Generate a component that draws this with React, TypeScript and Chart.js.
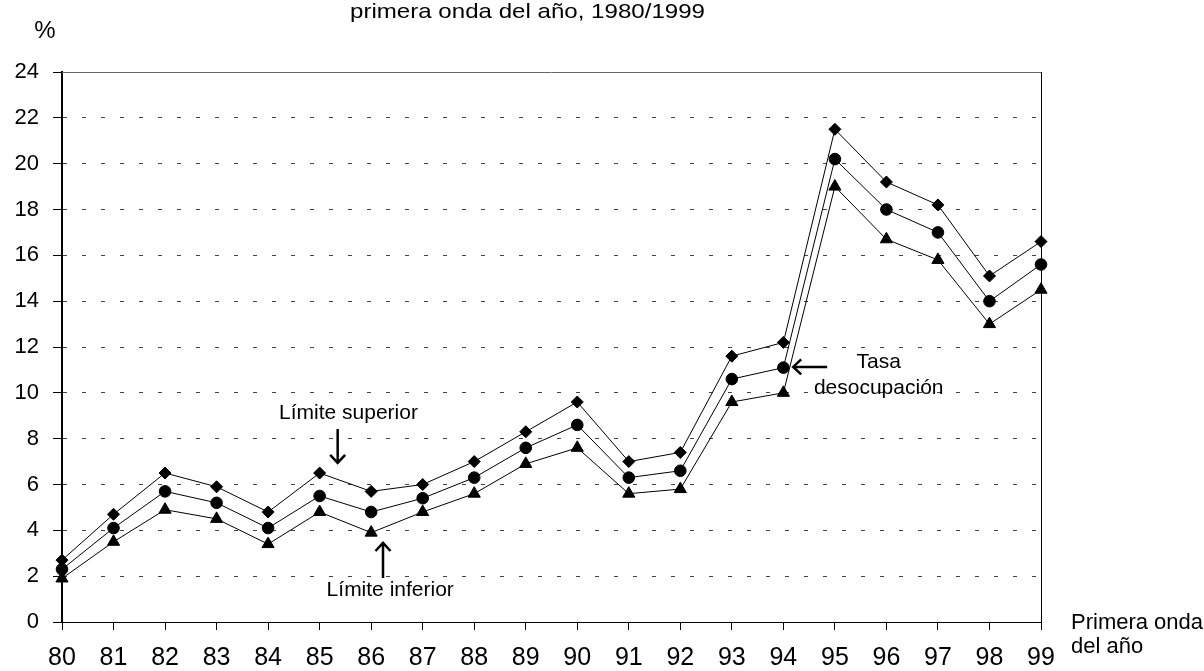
import React, { useEffect, useRef } from "react";
import { Chart, registerables } from "chart.js";

Chart.register(...registerables);

const categories = ["80", "81", "82", "83", "84", "85", "86", "87", "88", "89", "90", "91", "92", "93", "94", "95", "96", "97", "98", "99"];
const upperLimit = [2.7, 4.7, 6.5, 5.9, 4.8, 6.5, 5.7, 6.0, 7.0, 8.3, 9.6, 7.0, 7.4, 11.6, 12.2, 21.5, 19.2, 18.2, 15.1, 16.6];
const unemploymentRate = [2.3, 4.1, 5.7, 5.2, 4.1, 5.5, 4.8, 5.4, 6.3, 7.6, 8.6, 6.3, 6.6, 10.6, 11.1, 20.2, 18.0, 17.0, 14.0, 15.6];
const lowerLimit = [1.9, 3.5, 4.9, 4.5, 3.4, 4.8, 3.9, 4.8, 5.6, 6.9, 7.6, 5.6, 5.8, 9.6, 10.0, 19.0, 16.7, 15.8, 13.0, 14.5];
const yTicks = { min: 0, max: 24, step: 2 };

const titleText = "primera onda del año, 1980/1999";
const yAxisTitle = "%";
const xAxisTitle = ["Primera onda", "del año"];
const FONT = "'Liberation Sans', Arial, Helvetica, sans-serif";

function drawArrow(ctx: CanvasRenderingContext2D, x1: number, y1: number, x2: number, y2: number) {
  const ang = Math.atan2(y2 - y1, x2 - x1);
  const head = 11;
  const spread = 0.75;
  ctx.save();
  ctx.strokeStyle = "#000";
  ctx.lineWidth = 2.5;
  ctx.lineCap = "butt";
  ctx.beginPath();
  ctx.moveTo(x1, y1);
  ctx.lineTo(x2, y2);
  ctx.stroke();
  ctx.beginPath();
  ctx.moveTo(x2 - head * Math.cos(ang - spread), y2 - head * Math.sin(ang - spread));
  ctx.lineTo(x2, y2);
  ctx.lineTo(x2 - head * Math.cos(ang + spread), y2 - head * Math.sin(ang + spread));
  ctx.stroke();
  ctx.restore();
}

const decorPlugin = {
  id: "decor",
  afterDraw(chart: any) {
    const ctx: CanvasRenderingContext2D = chart.ctx;
    const { left, right, top, bottom } = chart.chartArea;
    const xs = chart.scales.x;
    const ys = chart.scales.y;
    const px = (i: number) => xs.getPixelForValue(i);
    const py = (v: number) => ys.getPixelForValue(v);

    ctx.save();
    ctx.strokeStyle = "#666";
    ctx.lineWidth = 1;
    ctx.beginPath();
    ctx.moveTo(left, top + 0.5);
    ctx.lineTo(right, top + 0.5);
    ctx.stroke();
    ctx.strokeStyle = "#000";
    ctx.beginPath();
    ctx.moveTo(right + 0.5, top);
    ctx.lineTo(right + 0.5, bottom);
    ctx.stroke();

    // title (condensed)
    ctx.fillStyle = "#000";
    ctx.font = `21px ${FONT}`;
    ctx.textBaseline = "alphabetic";
    ctx.textAlign = "left";
    const w = ctx.measureText(titleText).width;
    const targetW = 355;
    ctx.save();
    ctx.translate(350, 18);
    ctx.scale(targetW / w, 1);
    ctx.fillText(titleText, 0, 0);
    ctx.restore();

    // y axis title
    ctx.font = `24px ${FONT}`;
    ctx.textAlign = "center";
    ctx.textBaseline = "middle";
    ctx.fillText(yAxisTitle, 45, 31);

    // x axis title
    ctx.textAlign = "left";
    ctx.textBaseline = "alphabetic";
    ctx.font = `22px ${FONT}`;
    ctx.fillText(xAxisTitle[0], right + 30, bottom + 7);
    ctx.fillText(xAxisTitle[1], right + 30, bottom + 31);

    // annotations
    ctx.font = `21px ${FONT}`;
    ctx.textAlign = "center";
    ctx.textBaseline = "middle";
    ctx.fillText("Límite superior", px(5.56), py(9.12));
    ctx.fillText("Límite inferior", px(6.37), py(1.4));
    ctx.fillText("Tasa", px(15.85), py(11.35));
    ctx.fillText("desocupación", px(15.85), py(10.21));

    drawArrow(ctx, px(5.35), py(8.42), px(5.35), py(6.94));
    drawArrow(ctx, px(6.23), py(1.92), px(6.23), py(3.45));
    drawArrow(ctx, px(14.85), py(11.13), px(14.19), py(11.13));
    ctx.restore();
  },
};

export default function App() {
  const ref = useRef<HTMLCanvasElement | null>(null);
  useEffect(() => {
    if (!ref.current) return;
    const common = {
      borderColor: "#000",
      backgroundColor: "#000",
      pointBackgroundColor: "#000",
      pointBorderColor: "#000",
      borderWidth: 1,
      pointBorderWidth: 1,
      tension: 0,
      clip: false as const,
      fill: false,
    };
    const chart = new Chart(ref.current, {
      type: "line",
      data: {
        labels: categories,
        datasets: [
          { ...common, label: "Límite superior", data: upperLimit, pointStyle: "rectRot", pointRadius: 6 },
          { ...common, label: "Tasa desocupación", data: unemploymentRate, pointStyle: "circle", pointRadius: 5.8 },
          { ...common, label: "Límite inferior", data: lowerLimit, pointStyle: "triangle", pointRadius: 7 },
        ],
      },
      options: {
        animation: false,
        responsive: false,
        devicePixelRatio: 1,
        layout: { padding: { top: 72, right: 163, left: 0, bottom: 0 } },
        plugins: { legend: { display: false }, tooltip: { enabled: false }, title: { display: false } },
        scales: {
          x: {
            type: "category",
            offset: false,
            grid: { drawOnChartArea: false, drawTicks: true, tickLength: 8, tickColor: "#000", tickWidth: 1 },
            border: { display: true, color: "#000", width: 1 },
            ticks: {
              color: "#000",
              font: { family: FONT, size: 25 },
              padding: 13,
              maxRotation: 0,
              autoSkip: false,
            },
            afterFit: (s: any) => {
              s.height = 49;
            },
          },
          y: {
            min: yTicks.min,
            max: yTicks.max,
            ticks: {
              stepSize: yTicks.step,
              color: "#000",
              font: { family: FONT, size: 22 },
              padding: 14,
            },
            grid: { color: "#444", lineWidth: 1, tickLength: 9, tickColor: "#000", tickWidth: 1, drawTicks: true },
            border: { display: true, color: "#000", width: 2, dash: [4, 15] },
            afterFit: (s: any) => {
              s.width = 62;
            },
          },
        },
      },
      plugins: [decorPlugin],
    });
    return () => chart.destroy();
  }, []);
  return (
    <canvas
      ref={ref}
      width={1204}
      height={671}
      style={{ position: "fixed", left: 0, top: 0, width: 1204, height: 671, background: "#fff" }}
    />
  );
}
